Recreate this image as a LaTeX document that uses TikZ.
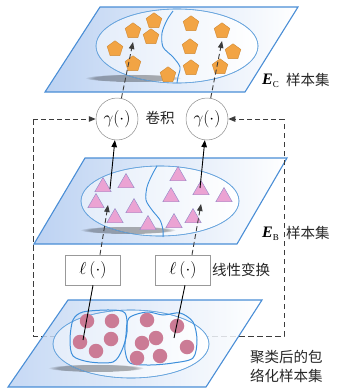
\documentclass[tikz,border=0pt]{standalone}
\usepackage{fontspec}
\setmainfont{Liberation Serif}
\newfontfamily\cjk{Noto Sans CJK SC}
\usetikzlibrary{shapes.geometric,arrows.meta,fadings}
\definecolor{planeedge}{HTML}{4A8ED6}
\definecolor{planeblue}{HTML}{BCD2F2}
\definecolor{ellipseedge}{HTML}{6AA6DE}
\definecolor{blobedge}{HTML}{3D8FDB}
\definecolor{pentfill}{HTML}{F2A444}
\definecolor{pentedge}{HTML}{D08A34}
\definecolor{trifill}{HTML}{EBA3D3}
\definecolor{triedge}{HTML}{8E86C6}
\definecolor{dotfill}{HTML}{CB7B95}
\definecolor{dashcol}{HTML}{3C3C3C}
\tikzset{
  plane/.style={draw=planeedge, line width=1.1pt, left color=planeblue, right color=white},
  setellipse/.style={draw=ellipseedge, line width=0.6pt, left color=planeblue!40, right color=white},
  shadowband/.style={fill=black, opacity=0.3, path fading=circle with fuzzy edge 20 percent},
  divider/.style={draw=blobedge, line width=0.9pt},
  blob/.style={draw=blobedge, line width=1pt},
  pent/.style={regular polygon, regular polygon sides=5, minimum size=16.5pt, inner sep=0pt, fill=pentfill, draw=pentedge, line width=0.4pt},
  tri/.style={regular polygon, regular polygon sides=3, minimum size=19pt, inner sep=0pt, fill=trifill, draw=triedge, line width=0.4pt},
  dot/.style={circle, minimum size=14.5pt, inner sep=0pt, fill=dotfill},
  gammanode/.style={circle, draw=black!45, line width=0.5pt, fill=white, minimum size=42pt, inner sep=0pt, font=\fontsize{17}{17}\selectfont},
  ellbox/.style={rectangle, draw=black!40, line width=0.5pt, fill=white, minimum width=55pt, minimum height=30pt, inner sep=0pt, font=\fontsize{16}{16}\selectfont},
  dasharrow/.style={draw=dashcol, line width=0.9pt, dash pattern=on 5pt off 3pt, -{Triangle[length=7pt,width=5.5pt]}},
  dashloop/.style={draw=dashcol, line width=0.9pt, dash pattern=on 5.5pt off 3.5pt},
  solidarrow/.style={draw=black, line width=0.9pt, -{Triangle[length=7pt,width=5.5pt]}},
  solidline/.style={draw=black, line width=0.9pt},
  cjklabel/.style={font=\cjk\fontsize{14.5}{17}\selectfont, inner sep=0pt, text=black!85},
}
\begin{document}
\begin{tikzpicture}[x=1pt,y=-1pt]
\useasboundingbox (0,0) rectangle (337,388);

% ---------------- top plane (E_C)
\path[plane] (100,7) -- (298,7) -- (245,92) -- (45,92) -- cycle;
\path[setellipse] (177,46) ellipse (81 and 37);
\path[shadowband] (133,78) ellipse (48 and 4);
\draw[ellipseedge, line width=0.6pt] (177,46) ellipse (81 and 37);
\draw[divider] plot[smooth] coordinates {(173,11) (167,20) (162,33) (163,47) (173,57) (180,67) (178,77) (177,83)};
\node[pent] (p1) at (154,21) {};
\node[pent] (p2) at (133,31) {};
\node[pent] (p3) at (151,37) {};
\node[pent] (p4) at (115,49) {};
\node[pent] (p5) at (133,64) {};
\node[pent] (p6) at (168,75) {};
\node[pent] (p7) at (191,24) {};
\node[pent] (p8) at (222,31) {};
\node[pent] (p9) at (190,47) {};
\node[pent] (p10) at (233,52) {};
\node[pent] (p11) at (191,68) {};
\node[pent] (p12) at (220,67) {};
\node[anchor=west, inner sep=0pt, font=\fontsize{16}{16}\selectfont] (ec) at (262,81) {\textbf{\textit{E}}\raisebox{-2.5pt}{\fontsize{9}{9}\selectfont C}};
\node[cjklabel, anchor=west] (ect) at (286,80) {样本集};

% ---------------- gamma nodes
\node[gammanode] (gl) at (117,119) {$\gamma(\cdot)$};
\node[gammanode] (gr) at (207,119) {$\gamma(\cdot)$};
\node[cjklabel] (conv) at (160,118) {卷积};
\coordinate (cl1) at (133,42);
\coordinate (cr1) at (222,41);
\draw[dasharrow] (gl.78) -- (cl1);
\draw[dasharrow] (gr.80) -- (cr1);

% ---------------- middle plane (E_B)
\path[plane] (85,158) -- (287,158) -- (237,244) -- (34,244) -- cycle;
\path[setellipse] (160,201) ellipse (79 and 35);
\path[shadowband] (128,230) ellipse (48 and 4);
\draw[ellipseedge, line width=0.6pt] (160,201) ellipse (79 and 35);
\draw[divider] plot[smooth] coordinates {(157,166) (152,175) (147,187) (146,200) (152,210) (160,220) (163,230) (163,237)};
\node[tri] (t1) at (103,187) {};
\node[tri] (t2) at (126,183) {};
\node[tri] (t3) at (96,203) {};
\node[tri] (t4) at (134,208) {};
\node[tri] (t5) at (115,218) {};
\node[tri] (t6) at (148,225) {};
\node[tri] (t7) at (178,176) {};
\node[tri] (t8) at (171,197) {};
\node[tri] (t9) at (201,190) {};
\node[tri] (t10) at (224,197) {};
\node[tri] (t11) at (174,223) {};
\node[tri] (t12) at (193,218) {};
\node[anchor=west, inner sep=0pt, font=\fontsize{16}{16}\selectfont] (eb) at (262,234) {\textbf{\textit{E}}\raisebox{-2.5pt}{\fontsize{9}{9}\selectfont B}};
\node[cjklabel, anchor=west] (ebt) at (286,233) {样本集};

\coordinate (ml) at (110,189);
\coordinate (mr) at (200,188);
\draw[solidarrow] (ml) -- (gl);
\draw[solidarrow] (mr) -- (gr);

% ---------------- dashed feedback loop
\coordinate (lt) at (33,119);
\coordinate (lb) at (33,336);
\coordinate (rb) at (284,336);
\coordinate (rt) at (284,119);
\draw[dashloop] (lt) -- (lb) -- (rb) -- (rt);
\draw[dasharrow] (lt) -- (gl);
\draw[dasharrow] (rt) -- (gr);

% ---------------- linear maps
\node[ellbox] (ll) at (93,270) {$\ell\,(\cdot)$};
\node[ellbox] (lr) at (183,270) {$\ell\,(\cdot)$};
\node[cjklabel, anchor=west] (lin) at (212,270) {线性变换};
\coordinate (bl) at (108,205);
\coordinate (br) at (201,204);
\draw[dasharrow] (ll.north) ++(7,0) coordinate (lls) -- (bl);
\draw[dasharrow] (lr.north) ++(9,0) coordinate (lrs) -- (br);

% ---------------- bottom plane
\path[plane, fill opacity=0.85] (68,300) -- (262,300) -- (206,387) -- (8,387) -- cycle;
\path[setellipse] (131,344) ellipse (78 and 34);
\path[shadowband] (96,368) ellipse (48 and 4);
\draw[ellipseedge, line width=0.6pt] (131,344) ellipse (78 and 34);
\draw[blob] plot[smooth cycle] coordinates {(70,340) (73,320) (83,312) (110,310) (125,313) (127,332) (122,350) (113,362) (90,362) (73,356)};
\draw[blob] plot[smooth cycle] coordinates {(126,335) (129,318) (147,312) (163,315) (180,313) (193,322) (197,340) (193,358) (173,363) (150,365) (130,363) (125,350)};
\node[dot] (d1) at (87,321) {};
\node[dot] (d2) at (112,321) {};
\node[dot] (d3) at (80,342) {};
\node[dot] (d4) at (111,339) {};
\node[dot] (d5) at (96,351) {};
\node[dot] (d6) at (147,320) {};
\node[dot] (d7) at (177,326) {};
\node[dot] (d8) at (156,338) {};
\node[dot] (d9) at (142,343) {};
\node[dot] (d10) at (187,347) {};
\node[dot] (d11) at (137,358) {};
\node[dot] (d12) at (160,356) {};
\coordinate (el) at (83,340);
\coordinate (er) at (174,338);
\draw[solidline] (el) -- (ll.south);
\draw[solidline] (er) -- ([xshift=2pt]lr.south);

\node[cjklabel, anchor=west] (bt1) at (250,357) {聚类后的包};
\node[cjklabel, anchor=west] (bt2) at (250,376) {络化样本集};
\end{tikzpicture}
\end{document}
